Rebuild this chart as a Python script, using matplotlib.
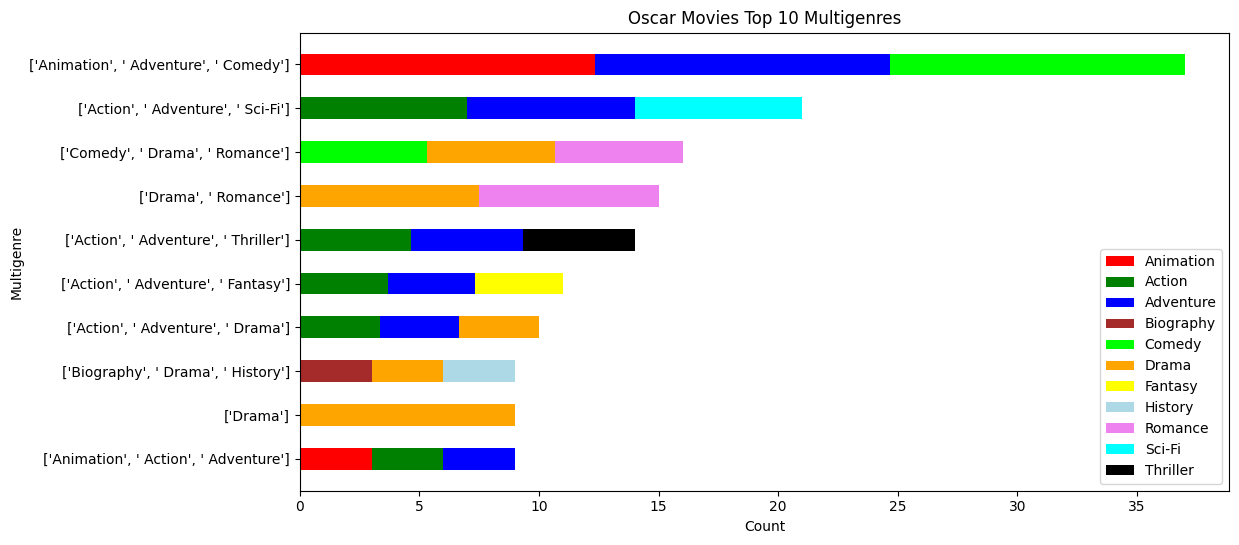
import matplotlib
matplotlib.use("Agg")
import matplotlib.pyplot as plt
import numpy as np

categories = ["['Animation', ' Action', ' Adventure']", "['Drama']",
              "['Biography', ' Drama', ' History']", "['Action', ' Adventure', ' Drama']",
              "['Action', ' Adventure', ' Fantasy']", "['Action', ' Adventure', ' Thriller']",
              "['Drama', ' Romance']", "['Comedy', ' Drama', ' Romance']",
              "['Action', ' Adventure', ' Sci-Fi']", "['Animation', ' Adventure', ' Comedy']"]
totals = [9, 9, 9, 10, 11, 14, 15, 16, 21, 37]
members = [["Animation", "Action", "Adventure"], ["Drama"], ["Biography", "Drama", "History"],
           ["Action", "Adventure", "Drama"], ["Action", "Adventure", "Fantasy"],
           ["Action", "Adventure", "Thriller"], ["Drama", "Romance"],
           ["Comedy", "Drama", "Romance"], ["Action", "Adventure", "Sci-Fi"],
           ["Animation", "Adventure", "Comedy"]]
genres = ["Animation", "Action", "Adventure", "Biography", "Comedy", "Drama",
          "Fantasy", "History", "Romance", "Sci-Fi", "Thriller"]
colors = ["red", "green", "blue", "brown", "lime", "orange", "yellow",
          "lightblue", "violet", "cyan", "black"]

fig, ax = plt.subplots(figsize=(12.39, 5.45), dpi=100)
fig.subplots_adjust(left=0.242, right=0.992, top=0.94, bottom=0.1)
y = np.arange(len(categories))
left = np.zeros(len(categories))
for g, c in zip(genres, colors):
    vals = np.array([t / len(m) if g in m else 0 for t, m in zip(totals, members)])
    ax.barh(y, vals, 0.5, left=left, color=c, label=g)
    left += vals
ax.set_xlim(0, max(totals) * 1.05)
ax.set_yticks(y)
ax.set_yticklabels(categories)
ax.set_xlabel("Count")
ax.set_ylabel("Multigenre")
ax.set_title("Oscar Movies Top 10 Multigenres")
ax.legend(loc="lower right")
fig.savefig("out.png")
